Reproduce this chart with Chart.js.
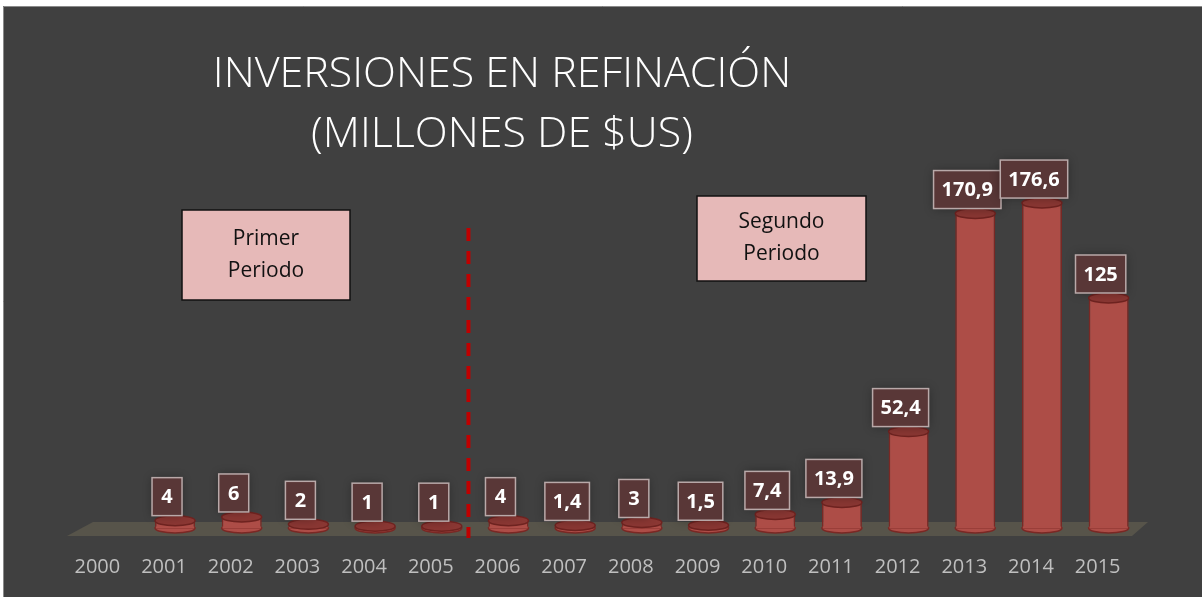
<!DOCTYPE html>
<html>
<head>
<meta charset="utf-8">
<script src="https://cdn.jsdelivr.net/npm/chart.js@4.4.1/dist/chart.umd.min.js"></script>
<style>
  html, body { margin: 0; padding: 0; background: #fff; }
  #wrap { width: 1202px; height: 597px; }
</style>
</head>
<body>
<div id="wrap"><canvas id="chart" width="1202" height="597"></canvas></div>
<script>
// data
const years = ['2000','2001','2002','2003','2004','2005','2006','2007','2008','2009','2010','2011','2012','2013','2014','2015'];
const inversion = [null, 4, 6, 2, 1, 1, 4, 1.4, 3, 1.5, 7.4, 13.9, 52.4, 170.9, 176.6, 125];
const titleLines = ['INVERSIONES EN REFINACIÓN', '(MILLONES DE $US)'];
const periodNotes = [['Primer', 'Periodo'], ['Segundo', 'Periodo']];
const dividerAt = 5.4; // between 2005 and 2006

const FONT = '"Open Sans", "DejaVu Sans", sans-serif';
const fmt = v => String(v).replace('.', ',');

// frame, floor, title, notes, dashed divider
const backdrop = {
  id: 'backdrop',
  beforeDraw(chart) {
    const c = chart.ctx;
    c.save();
    c.fillStyle = '#404040';
    c.fillRect(3, 6, chart.width - 3, chart.height - 6);
    c.strokeStyle = '#8a8a8a';
    c.lineWidth = 1;
    c.beginPath();
    c.moveTo(3.5, chart.height); c.lineTo(3.5, 6.5); c.lineTo(chart.width, 6.5);
    c.stroke();

    // title
    c.fillStyle = '#ffffff';
    c.textAlign = 'center';
    c.textBaseline = 'alphabetic';
    c.font = '300 43px ' + FONT;
    c.fillText(titleLines[0], 502, 87);
    c.fillText(titleLines[1], 502, 147);

    // notes
    const boxes = [[182, 210, 168, 90], [697, 196, 169, 85]];
    boxes.forEach((b, i) => {
      c.fillStyle = '#e6b9b8';
      c.fillRect(b[0], b[1], b[2], b[3]);
      c.strokeStyle = '#111';
      c.lineWidth = 1.5;
      c.strokeRect(b[0], b[1], b[2], b[3]);
      c.fillStyle = '#111';
      c.font = '21px ' + FONT;
      c.textBaseline = 'middle';
      const cx = b[0] + b[2] / 2, cy = b[1] + b[3] / 2;
      c.fillText(periodNotes[i][0], cx, cy - 16);
      c.fillText(periodNotes[i][1], cx, cy + 16);
    });
    c.restore();
  },
  beforeDatasetsDraw(chart) {
    const c = chart.ctx, a = chart.chartArea;
    const y0 = chart.scales.y.getPixelForValue(0);
    c.save();
    c.fillStyle = '#57544a';
    c.beginPath();
    c.moveTo(a.left + 18, y0 - 6);
    c.lineTo(a.right + 6, y0 - 6);
    c.lineTo(a.right - 10, y0 + 8);
    c.lineTo(a.left - 8, y0 + 8);
    c.closePath();
    c.fill();

    const xd = chart.scales.x.getPixelForValue(dividerAt);
    c.strokeStyle = '#c00000';
    c.lineWidth = 4;
    c.setLineDash([13, 10]);
    c.beginPath();
    c.moveTo(xd, 228);
    c.lineTo(xd, y0 + 10);
    c.stroke();
    c.restore();
  }
};

// cylinder caps + value boxes on top of the library's bars
const cylinders = {
  id: 'cylinders',
  afterDatasetsDraw(chart) {
    const c = chart.ctx;
    const meta = chart.getDatasetMeta(0);
    const y0 = chart.scales.y.getPixelForValue(0);
    c.save();
    meta.data.forEach((bar, i) => {
      const v = inversion[i];
      if (v == null) return;
      const p = bar.getProps(['x', 'y', 'width'], true);
      const rx = p.width / 2, ry = 5;
      // bottom half ellipse
      c.fillStyle = '#ad4d47';
      c.strokeStyle = '#7a2824';
      c.lineWidth = 1.5;
      c.beginPath();
      c.ellipse(p.x, y0, rx, ry, 0, 0, Math.PI);
      c.closePath();
      c.fill();
      c.stroke();
      c.fillRect(p.x - rx + 0.8, y0 - 1.5, p.width - 1.6, 2);
      // top ellipse
      c.fillStyle = '#8a3733';
      c.strokeStyle = '#6e2320';
      c.beginPath();
      c.ellipse(p.x, p.y, rx, ry, 0, 0, Math.PI * 2);
      c.fill();
      c.stroke();
    });
    // value boxes
    c.font = 'bold 20px ' + FONT;
    c.textAlign = 'center';
    c.textBaseline = 'middle';
    meta.data.forEach((bar, i) => {
      const v = inversion[i];
      if (v == null) return;
      const p = bar.getProps(['x', 'y'], true);
      const txt = fmt(v);
      const w = Math.max(30, c.measureText(txt).width + 16), h = 38;
      const cx = p.x - 8, bottom = p.y - 5;
      c.shadowColor = 'rgba(0,0,0,0.35)';
      c.shadowBlur = 10;
      c.fillStyle = 'rgba(92,56,56,0.95)';
      c.fillRect(cx - w / 2, bottom - h, w, h);
      c.shadowBlur = 0;
      c.shadowColor = 'transparent';
      c.strokeStyle = '#b9a9a9';
      c.lineWidth = 1.5;
      c.strokeRect(cx - w / 2, bottom - h, w, h);
      c.fillStyle = '#ffffff';
      c.fillText(txt, cx, bottom - h / 2 + 1);
    });
    c.restore();
  }
};

new Chart(document.getElementById('chart'), {
  type: 'bar',
  data: {
    labels: years,
    datasets: [{
      data: inversion,
      backgroundColor: '#ad4d47',
      borderColor: '#7a2824',
      borderWidth: { left: 1.5, right: 1.5, top: 0, bottom: 0 },
      barPercentage: 0.6,
      categoryPercentage: 1
    }]
  },
  options: {
    responsive: false,
    animation: false,
    layout: { padding: { left: 75, right: 60, top: 160, bottom: -9 } },
    plugins: { legend: { display: false }, tooltip: { enabled: false } },
    scales: {
      x: {
        grid: { display: false, drawTicks: false },
        border: { display: false },
        ticks: { color: '#bfbfbf', font: { family: FONT, size: 20 }, padding: 27, labelOffset: -11, maxRotation: 0 }
      },
      y: { display: false, min: 0, max: 200 }
    }
  },
  plugins: [backdrop, cylinders]
});
</script>
</body>
</html>
